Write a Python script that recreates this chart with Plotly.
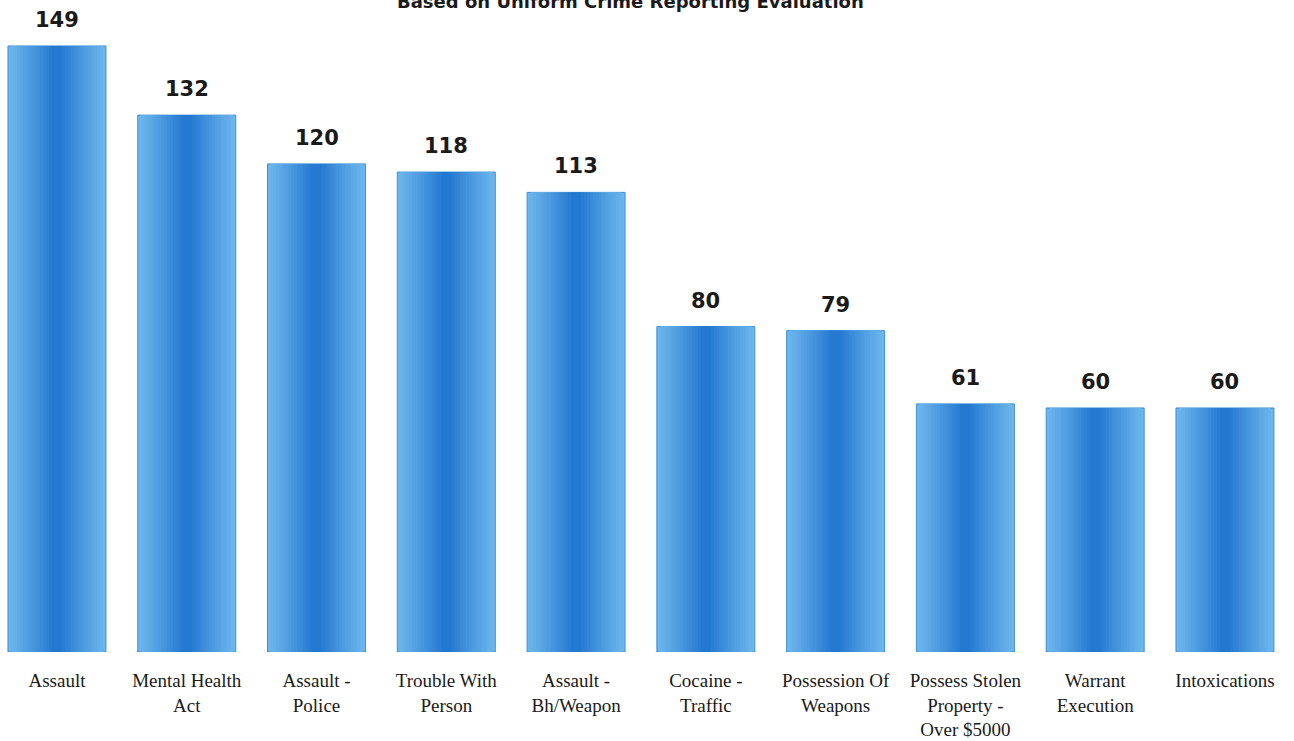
import plotly.graph_objects as go

categories = ["Assault", "Mental Health<br>Act", "Assault -<br>Police", "Trouble With<br>Person",
              "Assault -<br>Bh/Weapon", "Cocaine -<br>Traffic", "Possession Of<br>Weapons",
              "Possess Stolen<br>Property -<br>Over $5000", "Warrant<br>Execution", "Intoxications"]
values = [149, 132, 120, 118, 113, 80, 79, 61, 60, 60]
title_text = "Based on Uniform Crime Reporting Evaluation"

x = list(range(len(categories)))
fig = go.Figure()

bar_w = 0.755
n_layers = 16
light = (108, 182, 236)
dark = (36, 120, 208)
for k in range(n_layers):
    t = k / (n_layers - 1)
    f = t ** 1.1
    c = tuple(int(round(light[j] + (dark[j] - light[j]) * f)) for j in range(3))
    w = bar_w * (1 - 0.9 * t)
    fig.add_trace(go.Bar(
        x=x, y=values, width=[w] * len(x),
        marker=dict(color="rgb(%d,%d,%d)" % c,
                    line=dict(width=1 if k == 0 else 0, color="#3f8fd6")),
        showlegend=False, hoverinfo="skip"))

for xi, v in zip(x, values):
    fig.add_annotation(x=xi, y=v, text="<b>%d</b>" % v, showarrow=False,
                       yanchor="middle", yshift=26,
                       font=dict(family="DejaVu Sans", size=21, color="#1a1a1a"))

fig.add_annotation(text="<b>" + title_text + "</b>", xref="paper", yref="paper",
                   x=630 / 1294, y=1, yanchor="middle", yshift=-1, showarrow=False,
                   font=dict(family="DejaVu Sans", size=18, color="#1a1a1a"))

fig.update_layout(
    width=1294, height=741, barmode="overlay",
    margin=dict(l=0, r=0, t=0, b=89),
    paper_bgcolor="white", plot_bgcolor="white",
    xaxis=dict(range=[-0.439, 9.532], tickvals=x, ticktext=categories,
               showgrid=False, zeroline=False, showline=False, ticks="",
               ticklabelstandoff=15,
               tickfont=dict(family="Liberation Serif", size=19, color="#1a1a1a")),
    yaxis=dict(range=[0, 160.3], visible=False, showgrid=False),
)

fig.write_html("out.html")
